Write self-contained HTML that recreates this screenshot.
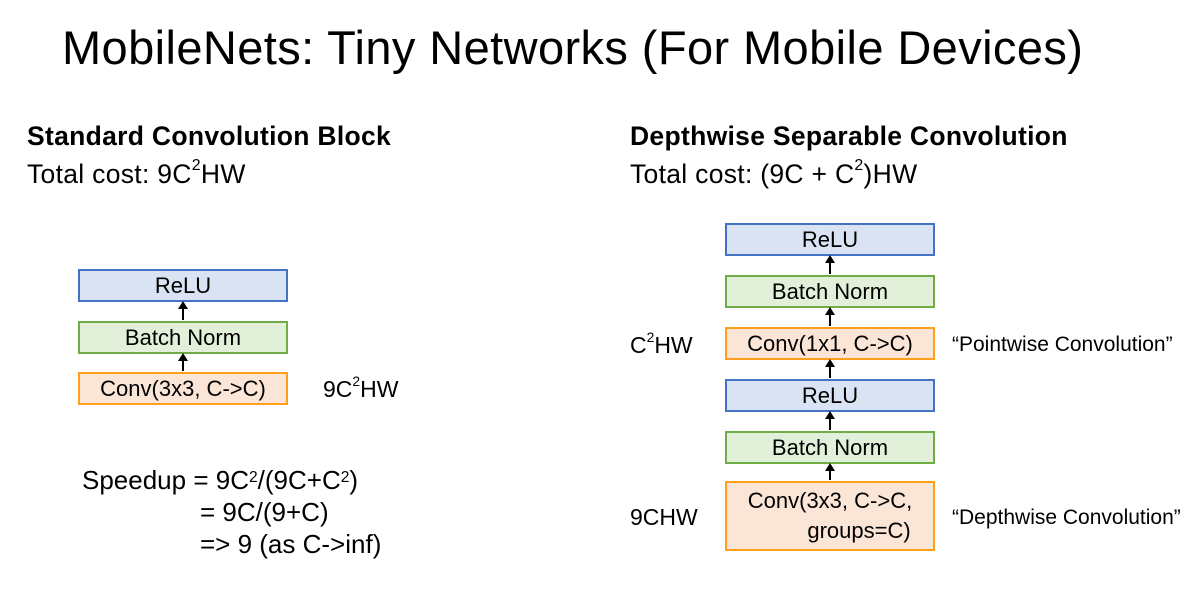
<!DOCTYPE html>
<html><head><meta charset="utf-8"><style>
body{margin:0;width:1202px;height:609px;background:#fff;position:relative;overflow:hidden;font-family:"Liberation Sans",sans-serif;color:#000}
.t{position:absolute;white-space:nowrap}
.b{position:absolute;box-sizing:border-box;border:2px solid;text-align:center;font-size:22px;display:flex;align-items:center;justify-content:center}
.r{background:#dae3f3;border-color:#4472c4}
.g{background:#e2f0d9;border-color:#70ad47}
.o{background:#fbe5d6;border-color:#ff9f1c}
.a{position:absolute;width:2px;background:#000}
.a:before{content:"";position:absolute;left:-4px;top:-2px;border-left:5px solid transparent;border-right:5px solid transparent;border-bottom:8px solid #000}
sup{font-size:60%;vertical-align:top;position:relative;top:-2px}
</style></head><body>
<div class="t" style="left:62px;top:20px;font-size:47px;letter-spacing:0.4px">MobileNets: Tiny Networks (For Mobile Devices)</div>
<div class="t" style="left:27px;top:121px;font-size:26.5px;font-weight:bold;letter-spacing:0.3px">Standard Convolution Block</div>
<div class="t" style="left:27px;top:159px;font-size:26.5px;letter-spacing:0.3px">Total cost: 9C<sup>2</sup>HW</div>
<div class="t" style="left:630px;top:121px;font-size:26.5px;font-weight:bold;letter-spacing:0.3px">Depthwise Separable Convolution</div>
<div class="t" style="left:630px;top:159px;font-size:26.5px;letter-spacing:0.3px">Total cost: (9C + C<sup>2</sup>)HW</div>

<div class="b r" style="left:78px;top:269px;width:210px;height:33px">ReLU</div>
<div class="b g" style="left:78px;top:321px;width:210px;height:33px">Batch Norm</div>
<div class="b o" style="left:78px;top:372px;width:210px;height:33px">Conv(3x3, C-&gt;C)</div>
<div class="a" style="left:182px;top:303px;height:17px"></div>
<div class="a" style="left:182px;top:355px;height:16px"></div>
<div class="t" style="left:323px;top:376px;font-size:23px">9C<sup>2</sup>HW</div>

<div class="t" style="left:82px;top:464px;font-size:26px;line-height:32px">Speedup = 9C<sup>2</sup>/(9C+C<sup>2</sup>)<br><span style="padding-left:118px">= 9C/(9+C)</span><br><span style="padding-left:118px">=&gt; 9 (as C-&gt;inf)</span></div>

<div class="b r" style="left:725px;top:223px;width:210px;height:33px">ReLU</div>
<div class="b g" style="left:725px;top:275px;width:210px;height:33px">Batch Norm</div>
<div class="b o" style="left:725px;top:327px;width:210px;height:33px">Conv(1x1, C-&gt;C)</div>
<div class="b r" style="left:725px;top:379px;width:210px;height:33px">ReLU</div>
<div class="b g" style="left:725px;top:431px;width:210px;height:33px">Batch Norm</div>
<div class="b o" style="left:725px;top:481px;width:210px;height:70px;line-height:30px;display:block;padding-top:3px">Conv(3x3, C-&gt;C,<br><span style="padding-left:58px">groups=C)</span></div>
<div class="a" style="left:829px;top:257px;height:17px"></div>
<div class="a" style="left:829px;top:309px;height:17px"></div>
<div class="a" style="left:829px;top:361px;height:17px"></div>
<div class="a" style="left:829px;top:413px;height:17px"></div>
<div class="a" style="left:829px;top:465px;height:15px"></div>
<div class="t" style="left:630px;top:332px;font-size:23px">C<sup>2</sup>HW</div>
<div class="t" style="left:630px;top:504px;font-size:23px">9CHW</div>
<div class="t" style="left:952px;top:333px;font-size:21px">“Pointwise Convolution”</div>
<div class="t" style="left:952px;top:506px;font-size:21px">“Depthwise Convolution”</div>
</body></html>
